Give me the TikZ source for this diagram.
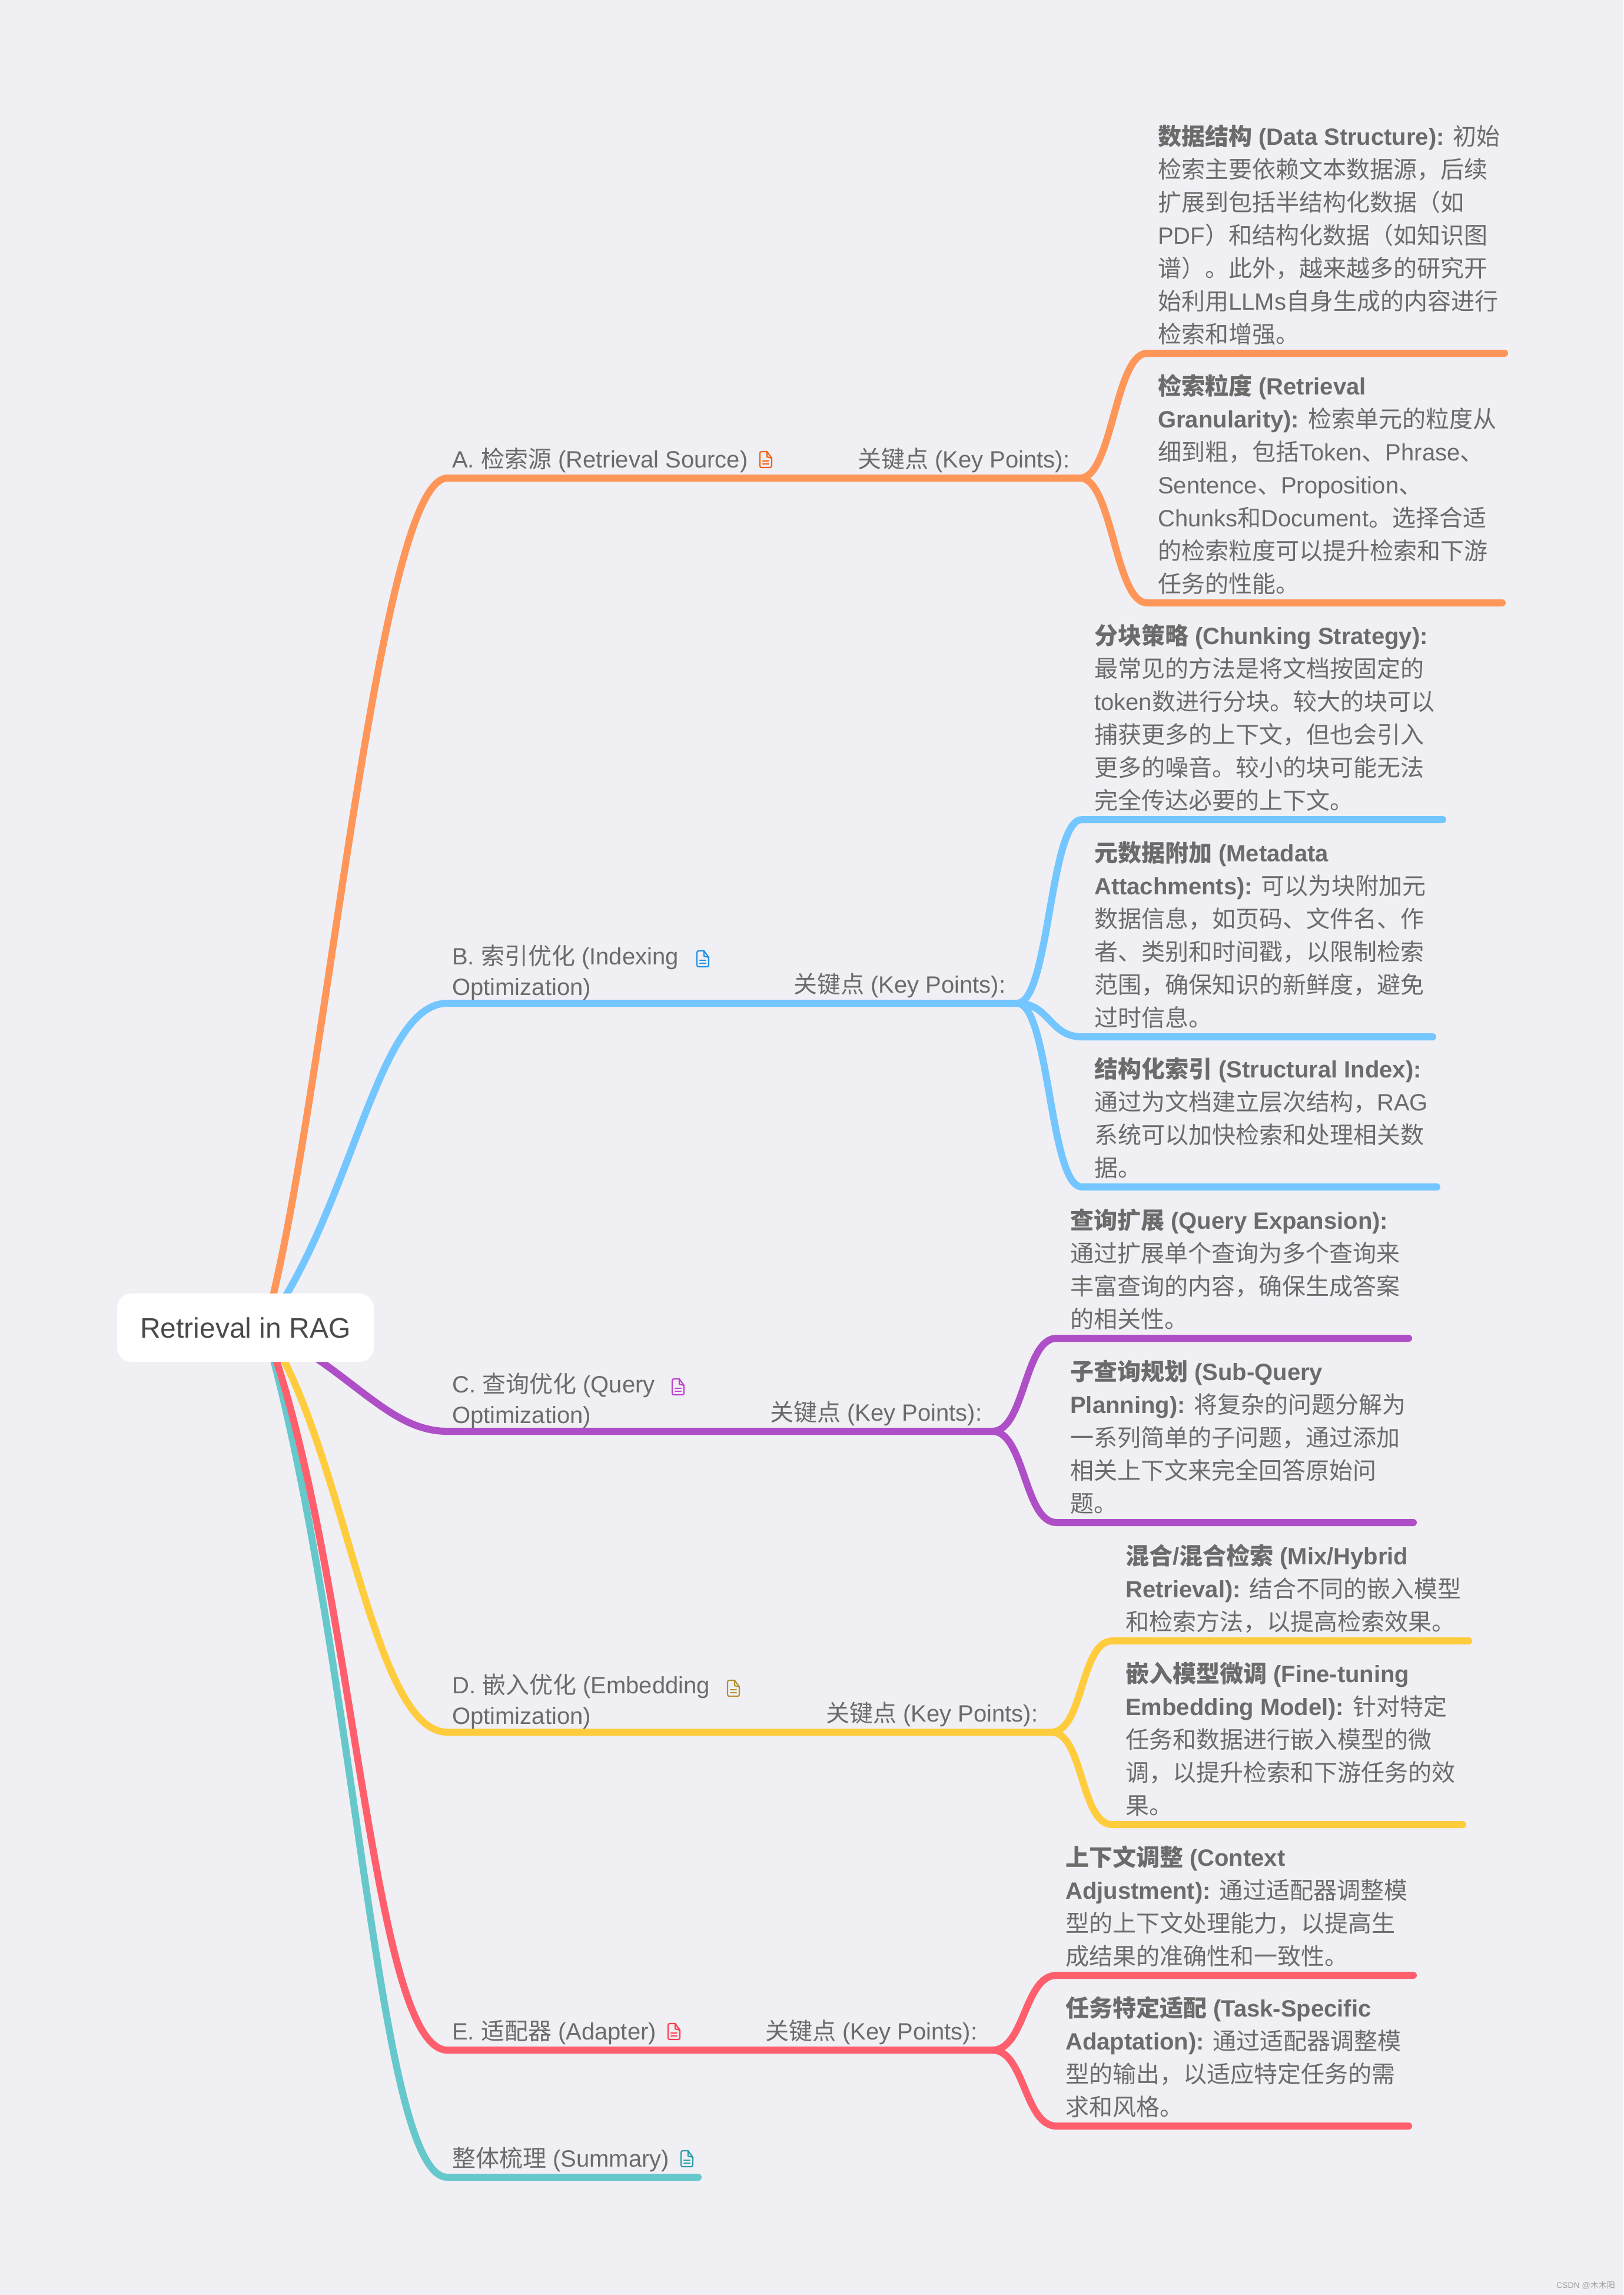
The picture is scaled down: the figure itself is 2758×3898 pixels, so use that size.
\documentclass[tikz,border=0pt]{standalone}
\usepackage{fontspec}
\setmainfont{Liberation Sans}
\newfontfamily\cjkreg{Noto Sans CJK SC}
\newif\ifbd
\def\tolat{\normalfont\ifbd\bfseries\fi}
\def\tocjk{\cjkreg\ifbd\bfseries\fi}
\chardef\cjkcl=7
\newcount\cc
\cc="4E00 \loop \XeTeXcharclass\cc=\cjkcl \advance\cc 1 \ifnum\cc<"A000 \repeat
\cc="3000 \loop \XeTeXcharclass\cc=\cjkcl \advance\cc 1 \ifnum\cc<"3040 \repeat
\cc="FF00 \loop \XeTeXcharclass\cc=\cjkcl \advance\cc 1 \ifnum\cc<"FFF0 \repeat
\XeTeXinterchartoks 0 \cjkcl={\tocjk}
\XeTeXinterchartoks \cjkcl 0={\tolat}
\XeTeXinterchartoks 4095 \cjkcl={\tocjk}
\XeTeXinterchartoks \cjkcl 4095={\tolat}
\XeTeXinterchartokenstate=1
\newcommand\bb[1]{{\bdtrue\tolat #1}\tolat}
\newcommand\lst{\rule[-12pt]{0pt}{40pt}}
\definecolor{bgc}{HTML}{EFEFF4}
\definecolor{txc}{HTML}{6B6B6B}
\definecolor{rtc}{HTML}{4A4A4A}
\definecolor{corA}{HTML}{FF9659}
\definecolor{corB}{HTML}{73C6FF}
\definecolor{corC}{HTML}{AF4FC7}
\definecolor{corD}{HTML}{FFCC3D}
\definecolor{corE}{HTML}{FF5F6D}
\definecolor{corF}{HTML}{67C8CC}
\definecolor{icA}{HTML}{F4600F}
\definecolor{icB}{HTML}{1E90E8}
\definecolor{icC}{HTML}{C040D0}
\definecolor{icD}{HTML}{B8902C}
\definecolor{icE}{HTML}{FF3B4E}
\definecolor{icF}{HTML}{2A9DA5}
\tikzset{
  limb/.style={line width=12pt,line cap=round,line join=round},
  leaftext/.style={anchor=south west,inner sep=0pt,align=left,text=txc,font=\fontsize{40}{56}\selectfont},
  lvltext/.style={anchor=south west,inner sep=0pt,align=left,text=txc,font=\fontsize{40}{52}\selectfont},
  roottext/.style={draw=none,fill=white,rounded corners=24pt,minimum width=436pt,minimum height=116pt,inner sep=0pt,text=rtc,font=\fontsize{48}{56}\selectfont},
  markc/.style={anchor=south east,inner sep=0pt,text=gray!75,font=\fontsize{14}{16}\selectfont}
}
% document icon: #1 left, #2 top, #3 colour
\newcommand\docicon[3]{%
  \begin{scope}[shift={(#1,#2)},draw=#3,line width=2.2pt,line join=round,line cap=round]
    \draw (3,0) -- (12,0) -- (20,11) -- (20,24) .. controls (20,26) and (19,27) .. (17,27) -- (3,27) .. controls (1,27) and (0,26) .. (0,24) -- (0,3) .. controls (0,1) and (1,0) .. (3,0);
    \draw (12,0) -- (12,9) -- (20,11);
    \draw (5,16) -- (15,16);
    \draw (5,21) -- (15,21);
  \end{scope}}
\newcommand\twig[4]{% colour, from, via-name, to
  \draw[limb,#1] (#2) .. controls ++(55,0) and ($(#3)+(-55,0)$) .. (#3) -- (#4);}
\usetikzlibrary{calc}
\begin{document}
\begin{tikzpicture}[x=1pt,y=-1pt]
\useasboundingbox[fill=bgc] (0,0) rectangle (2758,3898);
\coordinate (hub) at (450,2255);
% branch ends and splits
\coordinate (bA) at (760,812);  \coordinate (sA) at (1835,812);
\coordinate (bB) at (760,1704); \coordinate (sB) at (1728,1704);
\coordinate (bC) at (760,2431); \coordinate (sC) at (1686,2431);
\coordinate (bD) at (760,2942); \coordinate (sD) at (1786,2942);
\coordinate (bE) at (760,3482); \coordinate (sE) at (1686,3482);
\coordinate (bF) at (760,3698); \coordinate (eF) at (1186,3698);
% leaf lines
\coordinate (a1) at (1949,600);  \coordinate (a1e) at (2556,600);
\coordinate (a2) at (1949,1024); \coordinate (a2e) at (2552,1024);
\coordinate (b1) at (1838,1392); \coordinate (b1e) at (2451,1392);
\coordinate (b2) at (1838,1761); \coordinate (b2e) at (2434,1761);
\coordinate (b3) at (1838,2016); \coordinate (b3e) at (2441,2016);
\coordinate (c1) at (1795,2273); \coordinate (c1e) at (2393,2273);
\coordinate (c2) at (1795,2586); \coordinate (c2e) at (2401,2586);
\coordinate (d1) at (1890,2787); \coordinate (d1e) at (2495,2787);
\coordinate (d2) at (1890,3099); \coordinate (d2e) at (2485,3099);
\coordinate (e1) at (1795,3355); \coordinate (e1e) at (2401,3355);
\coordinate (e2) at (1795,3611); \coordinate (e2e) at (2393,3611);
% main branches
\draw[limb,corF] (hub) .. controls (605,2800) and (640,3698) .. (bF) -- (eF);
\draw[limb,corE] (hub) .. controls (600,2650) and (630,3482) .. (bE) -- (sE);
\draw[limb,corD] (hub) .. controls (585,2450) and (630,2942) .. (bD) -- (sD);
\draw[limb,corC] (hub) .. controls (600,2330) and (660,2431) .. (bC) -- (sC);
\draw[limb,corB] (hub) .. controls (600,2050) and (640,1704) .. (bB) -- (sB);
\draw[limb,corA] (hub) .. controls (550,1900) and (640,812) .. (bA) -- (sA);
% twigs
\twig{corA}{sA}{a1}{a1e}
\twig{corA}{sA}{a2}{a2e}
\twig{corB}{sB}{b1}{b1e}
\twig{corB}{sB}{b2}{b2e}
\twig{corB}{sB}{b3}{b3e}
\twig{corC}{sC}{c1}{c1e}
\twig{corC}{sC}{c2}{c2e}
\twig{corD}{sD}{d1}{d1e}
\twig{corD}{sD}{d2}{d2e}
\twig{corE}{sE}{e1}{e1e}
\twig{corE}{sE}{e2}{e2e}
% root
\node[roottext] (root) at (417,2255) {Retrieval in RAG};
% level-1 labels
\node[lvltext] (lA) at (768,807) {A. 检索源 (Retrieval Source)\lst};
\node[lvltext] (lB) at (768,1703) {B. 索引优化 (Indexing\\Optimization)\lst};
\node[lvltext] (lC) at (768,2430) {C. 查询优化 (Query\\Optimization)\lst};
\node[lvltext] (lD) at (768,2941) {D. 嵌入优化 (Embedding\\Optimization)\lst};
\node[lvltext] (lE) at (768,3477) {E. 适配器 (Adapter)\lst};
\node[lvltext] (lF) at (768,3693) {整体梳理 (Summary)\lst};
\docicon{1291}{767}{icA}
\docicon{1184}{1615}{icB}
\docicon{1142}{2342}{icC}
\docicon{1236}{2854}{icD}
\docicon{1135}{3437}{icE}
\docicon{1157}{3653}{icF}
% key points
\node[lvltext] (kA) at (1457,807) {关键点 (Key Points):\lst};
\node[lvltext] (kB) at (1348,1699) {关键点 (Key Points):\lst};
\node[lvltext] (kC) at (1308,2426) {关键点 (Key Points):\lst};
\node[lvltext] (kD) at (1403,2937) {关键点 (Key Points):\lst};
\node[lvltext] (kE) at (1300,3477) {关键点 (Key Points):\lst};
% leaf text
\node[leaftext] (ta1) at (1967,595) {\bb{数据结构 (Data Structure):} 初始\\检索主要依赖文本数据源，后续\\扩展到包括半结构化数据（如\\PDF）和结构化数据（如知识图\\谱）。此外，越来越多的研究开\\始利用LLMs自身生成的内容进行\\检索和增强。\lst};
\node[leaftext] (ta2) at (1967,1019) {\bb{检索粒度 (Retrieval}\\\bb{Granularity):} 检索单元的粒度从\\细到粗，包括Token、Phrase、\\Sentence、Proposition、\\Chunks和Document。选择合适\\的检索粒度可以提升检索和下游\\任务的性能。\lst};
\node[leaftext] (tb1) at (1859,1387) {\bb{分块策略 (Chunking Strategy):}\\最常见的方法是将文档按固定的\\token数进行分块。较大的块可以\\捕获更多的上下文，但也会引入\\更多的噪音。较小的块可能无法\\完全传达必要的上下文。\lst};
\node[leaftext] (tb2) at (1859,1756) {\bb{元数据附加 (Metadata}\\\bb{Attachments):} 可以为块附加元\\数据信息，如页码、文件名、作\\者、类别和时间戳，以限制检索\\范围，确保知识的新鲜度，避免\\过时信息。\lst};
\node[leaftext] (tb3) at (1859,2011) {\bb{结构化索引 (Structural Index):}\\通过为文档建立层次结构，RAG\\系统可以加快检索和处理相关数\\据。\lst};
\node[leaftext] (tc1) at (1818,2268) {\bb{查询扩展 (Query Expansion):}\\通过扩展单个查询为多个查询来\\丰富查询的内容，确保生成答案\\的相关性。\lst};
\node[leaftext] (tc2) at (1818,2581) {\bb{子查询规划 (Sub-Query}\\\bb{Planning):} 将复杂的问题分解为\\一系列简单的子问题，通过添加\\相关上下文来完全回答原始问\\题。\lst};
\node[leaftext] (td1) at (1912,2782) {\bb{混合/混合检索 (Mix/Hybrid}\\\bb{Retrieval):} 结合不同的嵌入模型\\和检索方法，以提高检索效果。\lst};
\node[leaftext] (td2) at (1912,3094) {\bb{嵌入模型微调 (Fine-tuning}\\\bb{Embedding Model):} 针对特定\\任务和数据进行嵌入模型的微\\调，以提升检索和下游任务的效\\果。\lst};
\node[leaftext] (te1) at (1810,3350) {\bb{上下文调整 (Context}\\\bb{Adjustment):} 通过适配器调整模\\型的上下文处理能力，以提高生\\成结果的准确性和一致性。\lst};
\node[leaftext] (te2) at (1810,3606) {\bb{任务特定适配 (Task-Specific}\\\bb{Adaptation):} 通过适配器调整模\\型的输出，以适应特定任务的需\\求和风格。\lst};
\node[markc] (wm) at (2744,3889) {CSDN @木木阳};
\end{tikzpicture}
\end{document}
